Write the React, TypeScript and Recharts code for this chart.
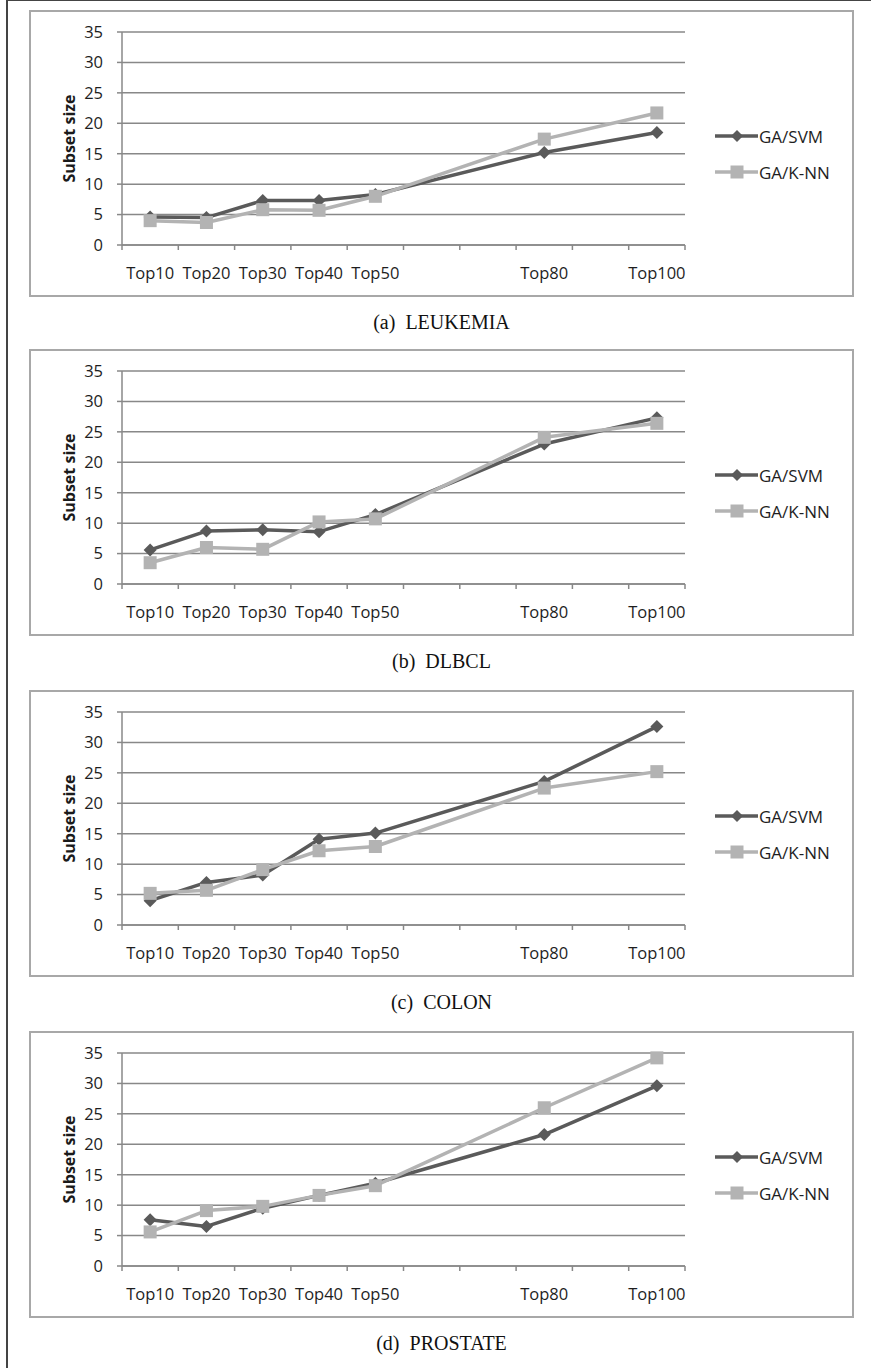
import React from "react"
import { LineChart, Line, XAxis, YAxis, CartesianGrid, Legend } from "recharts"

// x slots: Top60, Top70 and Top90 are empty in every panel
const categories = ["Top10", "Top20", "Top30", "Top40", "Top50", "Top60", "Top70", "Top80", "Top90", "Top100"]
const tickLabels = ["Top10", "Top20", "Top30", "Top40", "Top50", "", "", "Top80", "", "Top100"]
const yTicks = [0, 5, 10, 15, 20, 25, 30, 35]
const seriesNames = ["GA/SVM", "GA/K-NN"]

const leukemiaSvm = [4.6, 4.5, 7.3, 7.3, 8.3, null, null, 15.2, null, 18.5]
const leukemiaKnn = [4.0, 3.7, 5.8, 5.7, 8.0, null, null, 17.4, null, 21.7]

const dlbclSvm = [5.6, 8.7, 8.9, 8.6, 11.4, null, null, 23.0, null, 27.3]
const dlbclKnn = [3.5, 6.0, 5.7, 10.2, 10.7, null, null, 24.1, null, 26.4]

const colonSvm = [4.0, 7.0, 8.2, 14.1, 15.1, null, null, 23.6, null, 32.6]
const colonKnn = [5.2, 5.7, 9.1, 12.2, 12.9, null, null, 22.5, null, 25.2]

const prostateSvm = [7.6, 6.5, 9.5, 11.6, 13.6, null, null, 21.6, null, 29.6]
const prostateKnn = [5.6, 9.1, 9.8, 11.6, 13.2, null, null, 26.0, null, 34.2]

const SVM_COLOR = "#5a5a5a"
const KNN_COLOR = "#b3b3b3"
const AXIS_COLOR = "#888888"
const TEXT_COLOR = "#1e1e1e"
const FONT = "'Open Sans', sans-serif"

const gridTicks = categories.map((_, i) => i).concat(categories.length)
const labelTicks = tickLabels.map((l, i) => (l ? i + 0.5 : null)).filter((v) => v !== null) as number[]

function diamond(color: string) {
  return (p: any) => {
    const key = `d-${p.index}`
    if (p.cy == null || p.value == null) return <g key={key} />
    const r = 6.5
    return (
      <path
        key={key}
        d={`M${p.cx},${p.cy - r}L${p.cx + r},${p.cy}L${p.cx},${p.cy + r}L${p.cx - r},${p.cy}Z`}
        fill={color}
      />
    )
  }
}

function square(color: string) {
  return (p: any) => {
    const key = `s-${p.index}`
    if (p.cy == null || p.value == null) return <g key={key} />
    const h = 6.5
    return <rect key={key} x={p.cx - h} y={p.cy - h} width={h * 2} height={h * 2} fill={color} />
  }
}

function LegendContent() {
  const items = [
    { name: seriesNames[0], color: SVM_COLOR, mark: "d" },
    { name: seriesNames[1], color: KNN_COLOR, mark: "s" },
  ]
  return (
    <div style={{ fontFamily: FONT, fontSize: 17, color: TEXT_COLOR }}>
      {items.map((it) => (
        <div key={it.name} style={{ display: "flex", alignItems: "center", height: 36 }}>
          <svg width={44} height={20} style={{ display: "block" }}>
            <line x1={0} y1={10} x2={43} y2={10} stroke={it.color} strokeWidth={3.5} />
            {it.mark === "d" ? (
              <path d="M22,4L28,10L22,16L16,10Z" fill={it.color} />
            ) : (
              <rect x={15.5} y={3.5} width={13} height={13} fill={it.color} />
            )}
          </svg>
          <span style={{ marginLeft: 0 }}>{it.name}</span>
        </div>
      ))}
    </div>
  )
}

function Panel({ top, caption, svm, knn }: { top: number; caption: string; svm: (number | null)[]; knn: (number | null)[] }) {
  const data = categories.map((c, i) => ({ name: c, pos: i + 0.5, svm: svm[i], knn: knn[i] }))
  return (
    <>
      <div
        style={{
          position: "absolute",
          left: 29,
          top,
          width: 825,
          height: 287,
          border: "2px solid #a8a8a8",
          boxSizing: "border-box",
          background: "#fff",
        }}
      >
        <LineChart width={821} height={283} data={data} margin={{ top: 20, right: 167, bottom: 0, left: 0 }}>
          <CartesianGrid xAxisId="grid" vertical={false} stroke={AXIS_COLOR} strokeWidth={1.5} />
          <XAxis
            xAxisId="grid"
            type="number"
            dataKey="pos"
            domain={[0, categories.length]}
            ticks={gridTicks}
            interval={0}
            tickSize={5}
            tickFormatter={() => ""}
            stroke={AXIS_COLOR}
            strokeWidth={1.5}
            height={8}
          />
          <XAxis
            xAxisId="lbl"
            type="number"
            dataKey="pos"
            domain={[0, categories.length]}
            ticks={labelTicks}
            interval={0}
            tickFormatter={(v: number) => tickLabels[Math.floor(v)]}
            axisLine={false}
            tickLine={false}
            tickSize={0}
            tickMargin={14}
            height={42}
            tick={{ fill: TEXT_COLOR, fontSize: 16.5, fontFamily: FONT }}
          />
          <YAxis
            type="number"
            domain={[0, 35]}
            ticks={yTicks}
            interval={0}
            width={91}
            tickSize={5}
            tickMargin={14}
            stroke={AXIS_COLOR}
            strokeWidth={1.5}
            tick={{ fill: TEXT_COLOR, fontSize: 16.5, fontFamily: FONT }}
            label={(props: any) => {
              const vb = props.viewBox
              const cx = vb.x + 38
              const cy = vb.y + vb.height / 2
              return (
                <text
                  x={cx}
                  y={cy}
                  transform={`rotate(-90 ${cx} ${cy})`}
                  textAnchor="middle"
                  dominantBaseline="central"
                  fontFamily={FONT}
                  fontWeight="bold"
                  fontSize={16}
                  fill="#1a1a1a"
                >
                  Subset size
                </text>
              )
            }}
          />
          <Legend
            layout="vertical"
            align="center"
            verticalAlign="middle"
            content={() => <LegendContent />}
            wrapperStyle={{ left: 684, top: 106, width: 137, bottom: "auto" }}
          />
          <Line
            xAxisId="grid"
            dataKey="svm"
            name={seriesNames[0]}
            stroke={SVM_COLOR}
            strokeWidth={3.5}
            strokeLinejoin="round"
            connectNulls
            dot={diamond(SVM_COLOR)}
            activeDot={false}
            isAnimationActive={false}
          />
          <Line
            xAxisId="grid"
            dataKey="knn"
            name={seriesNames[1]}
            stroke={KNN_COLOR}
            strokeWidth={3.5}
            strokeLinejoin="round"
            connectNulls
            dot={square(KNN_COLOR)}
            activeDot={false}
            isAnimationActive={false}
          />
        </LineChart>
      </div>
      <div
        style={{
          position: "absolute",
          left: 29,
          width: 825,
          top: top + 300,
          textAlign: "center",
          fontFamily: "'Liberation Serif', serif",
          fontSize: 20,
          lineHeight: "24px",
          color: "#111",
          whiteSpace: "pre",
        }}
      >
        {caption}
      </div>
    </>
  )
}

export default function App() {
  return (
    <div style={{ position: "relative", width: 871, height: 1368, background: "#fff", overflow: "hidden" }}>
      <style>{"body{margin:0}"}</style>
      <div
        style={{
          position: "absolute",
          left: 6,
          top: 0,
          width: 870,
          height: 1368,
          borderLeft: "2px solid #444",
          borderTop: "1px solid #444",
        }}
      />
      <Panel top={10} caption="(a)  LEUKEMIA" svm={leukemiaSvm} knn={leukemiaKnn} />
      <Panel top={349} caption="(b)  DLBCL" svm={dlbclSvm} knn={dlbclKnn} />
      <Panel top={690} caption="(c)  COLON" svm={colonSvm} knn={colonKnn} />
      <Panel top={1031} caption="(d)  PROSTATE" svm={prostateSvm} knn={prostateKnn} />
    </div>
  )
}
